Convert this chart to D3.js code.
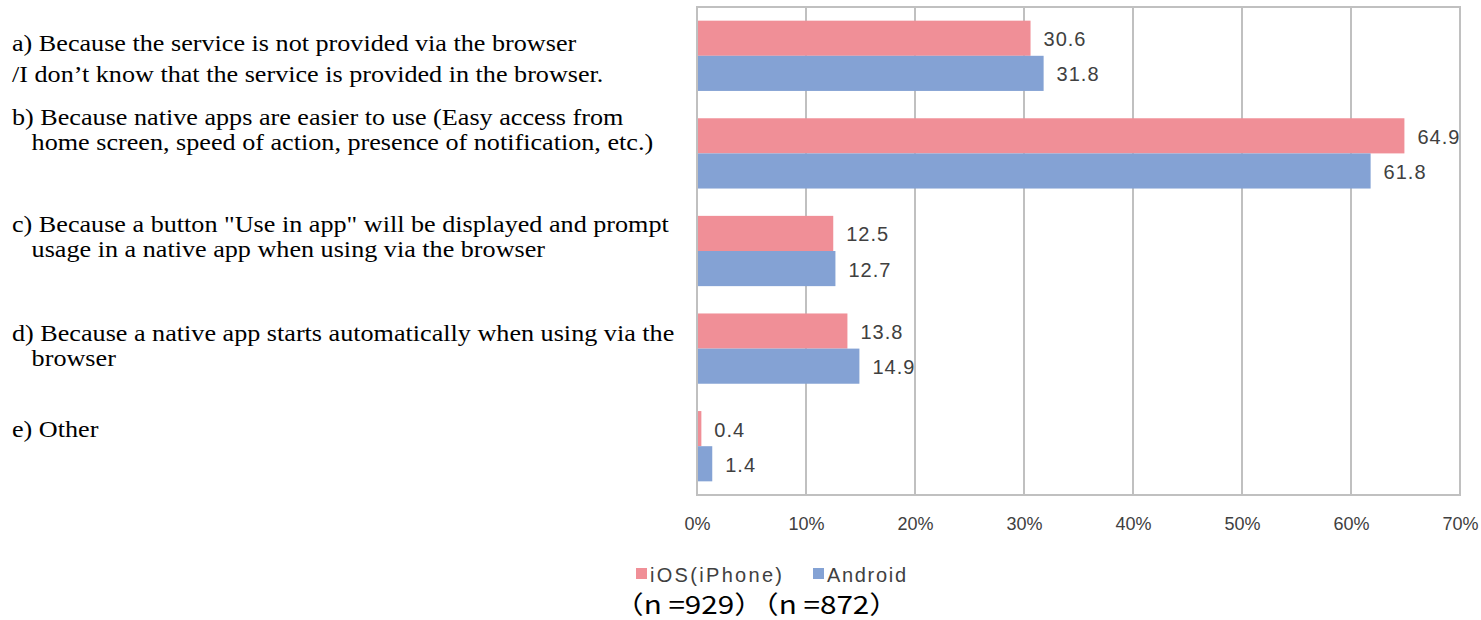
<!DOCTYPE html>
<html><head><meta charset="utf-8">
<script src="https://cdn.jsdelivr.net/npm/d3@7"></script>
<style>body{margin:0;background:#fff}</style>
</head><body>
<svg id="chart" width="1481" height="620"></svg>
<script>
const categories = ["a","b","c","d","e"];
const categoryLabels = [
  ["a) Because the service is not provided via the browser", "/I don\u2019t know that the service is provided in the browser."],
  ["b) Because native apps are easier to use (Easy access from", "   home screen, speed of action, presence of notification, etc.)"],
  ["c) Because a button \"Use in app\" will be displayed and prompt", "   usage in a native app when using via the browser"],
  ["d) Because a native app starts automatically when using via the", "   browser"],
  ["e) Other"]
];
const seriesNames = ["iOS(iPhone)", "Android"];
const iosValues = [30.6, 64.9, 12.5, 13.8, 0.4];
const androidValues = [31.8, 61.8, 12.7, 14.9, 1.4];
const tickValues = [0, 10, 20, 30, 40, 50, 60, 70];
const tickLabels = ["0%", "10%", "20%", "30%", "40%", "50%", "60%", "70%"];
const sampleNote = "\uff08n =929\uff09\uff08n =872\uff09";

(function () {
const colors = ["#F08F97", "#84A2D4"];
const svg = d3.select("#chart");
const pLeft = 697, pRight = 1460, pTop = 7, pBottom = 495;

const x = d3.scaleLinear().domain([0, 70]).range([pLeft, pRight]);
const y = d3.scaleBand().domain(categories).range([pTop, pBottom]).paddingInner(0.28).paddingOuter(0.14);
const sub = d3.scaleBand().domain([0, 1]).range([0, y.bandwidth()]);

// grid
svg.append("g").selectAll("line").data(tickValues.slice(1, -1)).join("line")
  .attr("x1", d => x(d)).attr("x2", d => x(d)).attr("y1", pTop).attr("y2", pBottom)
  .attr("stroke", "#c0c0c0").attr("stroke-width", 2);

const series = [iosValues, androidValues];
series.forEach((vals, si) => {
  const g = svg.append("g");
  g.selectAll("rect").data(vals).join("rect")
    .attr("x", x(0)).attr("y", (d, i) => y(categories[i]) + sub(si))
    .attr("width", d => x(d) - x(0)).attr("height", sub.bandwidth())
    .attr("fill", colors[si]);
  g.selectAll("text").data(vals).join("text")
    .attr("x", d => x(d) + 13).attr("y", (d, i) => y(categories[i]) + sub(si) + sub.bandwidth() / 2 + 8)
    .attr("font-family", "Liberation Sans, Arial, sans-serif").attr("font-size", 20)
    .attr("letter-spacing", 1)
    .attr("fill", "#404040").text(d => d.toFixed(1));
});

// frame
svg.append("rect").attr("x", pLeft).attr("y", pTop).attr("width", pRight - pLeft).attr("height", pBottom - pTop)
  .attr("fill", "none").attr("stroke", "#c0c0c0").attr("stroke-width", 2);

// x axis labels
const xAxis = d3.axisBottom(x).tickValues(tickValues).tickFormat((d, i) => tickLabels[i]).tickSize(0).tickPadding(22);
const ax = svg.append("g").attr("transform", `translate(0,${pBottom})`).call(xAxis);
ax.select(".domain").remove();
ax.selectAll("text").attr("font-family", "Liberation Sans Narrow, Liberation Sans, Arial, sans-serif")
  .attr("font-size", 18).attr("fill", "#404040");

// category labels (layout offsets relative to band centre)
const firstLineOffset = [-5, -28, -19, -8, -9];
const lineGap = [31, 25, 25, 25, 0];
const sx = 1.09;
const lab = svg.append("g").attr("transform", `translate(12,0) scale(${sx},1)`)
  .attr("font-family", "Liberation Serif, Times New Roman, serif").attr("font-size", 24).attr("fill", "#000");
categoryLabels.forEach((lines, i) => {
  const c = y(categories[i]) + y.bandwidth() / 2;
  const t = lab.append("text").attr("x", 0).attr("y", c + firstLineOffset[i]).attr("xml:space", "preserve");
  lines.forEach((ln, j) => {
    t.append("tspan").attr("x", 0).attr("dy", j === 0 ? 0 : lineGap[i]).text(ln);
  });
});

// legend
const leg = svg.append("g").attr("font-family", "Liberation Sans, Arial, sans-serif").attr("font-size", 20).attr("fill", "#404040");
const legX = [636, 813];
const legW = [132, 79];
seriesNames.forEach((n, i) => {
  leg.append("rect").attr("x", legX[i]).attr("y", 568).attr("width", 11).attr("height", 11).attr("fill", colors[i]);
  leg.append("text").attr("x", legX[i] + 14).attr("y", 582).attr("textLength", legW[i]).attr("lengthAdjust", "spacing").text(n);
});
svg.append("text").attr("x", 614).attr("y", 614).attr("font-family", "Noto Sans CJK JP, Liberation Sans, sans-serif")
  .attr("font-size", 25).attr("fill", "#000").attr("textLength", 285).attr("lengthAdjust", "spacingAndGlyphs").text(sampleNote);
})();
</script>
</body></html>
